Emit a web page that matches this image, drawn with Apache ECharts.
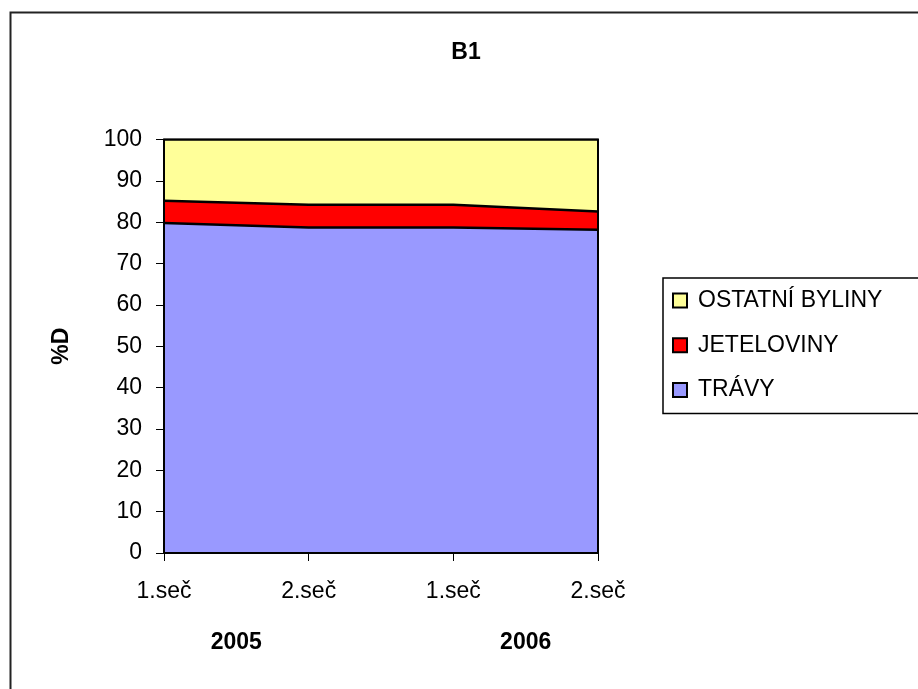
<!DOCTYPE html>
<html>
<head>
<meta charset="utf-8">
<script src="https://cdn.jsdelivr.net/npm/echarts@6/dist/echarts.min.js"></script>
<style>html,body{margin:0;padding:0;background:#fff}#c{width:918px;height:689px}</style>
</head>
<body>
<div id="c"></div>
<script>
const categories = ['1.seč', '2.seč', '1.seč', '2.seč'];
const years = ['2005', '2006'];
const travy = [79.8, 78.7, 78.7, 78.2];
const jeteloviny = [5.4, 5.5, 5.5, 4.4];
const ostatni = [14.8, 15.8, 15.8, 17.4];
const yTicks = [0, 10, 20, 30, 40, 50, 60, 70, 80, 90, 100];

// year axis: half-step categories so each year sits between its two cuts
const yearCats = [];
for (let i = 0; i <= (categories.length - 1) * 2; i++) yearCats.push('');
years.forEach((y, k) => { yearCats[k * 4 + 1] = y; });

const FONT = 'Liberation Sans';
const FS = 23;

const chart = echarts.init(document.getElementById('c'), null, {renderer: 'canvas'});
chart.setOption({
  backgroundColor: '#fff',
  animation: false,
  textStyle: {fontFamily: FONT},
  graphic: [{
    type: 'rect', z: 0, silent: true,
    shape: {x: 10.5, y: 12.5, width: 2000, height: 2000},
    style: {fill: 'none', stroke: '#222', lineWidth: 2}
  }],
  title: {
    text: 'B1', left: 466, top: 41, textAlign: 'center', padding: 0,
    textStyle: {fontFamily: FONT, fontSize: FS, fontWeight: 'bold', color: '#000'}
  },
  legend: {
    orient: 'vertical', left: 663, top: 278,
    padding: [10, 100, 11, 9], itemGap: 19.7,
    borderColor: '#000', borderWidth: 1.5,
    icon: 'rect', itemWidth: 14, itemHeight: 14,
    itemStyle: {borderColor: '#000', borderWidth: 2},
    textStyle: {fontFamily: FONT, fontSize: FS, color: '#000', lineHeight: 25, padding: [0, 0, 0, 6]},
    data: ['OSTATNÍ BYLINY', 'JETELOVINY', 'TRÁVY']
  },
  grid: {
    left: 164, right: 320, top: 139.5, bottom: 136,
    show: true, z: 10, borderColor: '#000', borderWidth: 2, backgroundColor: 'transparent'
  },
  xAxis: [{
    type: 'category', data: categories, boundaryGap: false,
    axisLine: {lineStyle: {color: '#000', width: 1.5}},
    axisTick: {show: true, length: 8, lineStyle: {color: '#000'}},
    axisLabel: {fontFamily: FONT, fontSize: FS, color: '#000', margin: 27, interval: 0},
    splitLine: {show: false}
  }, {
    type: 'category', data: yearCats, boundaryGap: false, position: 'bottom', offset: 51,
    axisLine: {show: false}, axisTick: {show: false},
    axisLabel: {fontFamily: FONT, fontSize: FS, fontWeight: 'bold', color: '#000', margin: 27, interval: 0},
    splitLine: {show: false}
  }],
  yAxis: {
    type: 'value', min: yTicks[0], max: yTicks[yTicks.length - 1], interval: 10,
    name: '%D', nameLocation: 'middle', nameGap: 91, nameRotate: 90,
    nameTextStyle: {fontFamily: FONT, fontSize: FS, fontWeight: 'bold', color: '#000'},
    axisLine: {show: true, lineStyle: {color: '#000', width: 1.5}},
    axisTick: {show: true, length: 8, lineStyle: {color: '#000'}},
    axisLabel: {fontFamily: FONT, fontSize: FS, color: '#000', margin: 22},
    splitLine: {show: false}
  },
  series: [
    {name: 'TRÁVY', type: 'line', stack: 's', data: travy, symbol: 'none', z: 5,
     color: '#9999FF', lineStyle: {color: '#000', width: 2.5}, areaStyle: {color: '#9999FF', opacity: 1}},
    {name: 'JETELOVINY', type: 'line', stack: 's', data: jeteloviny, symbol: 'none', z: 4,
     color: '#FF0000', lineStyle: {color: '#000', width: 2.5}, areaStyle: {color: '#FF0000', opacity: 1}},
    {name: 'OSTATNÍ BYLINY', type: 'line', stack: 's', data: ostatni, symbol: 'none', z: 3,
     color: '#FFFF99', lineStyle: {color: '#000', width: 2}, areaStyle: {color: '#FFFF99', opacity: 1}}
  ]
});
</script>
</body>
</html>
